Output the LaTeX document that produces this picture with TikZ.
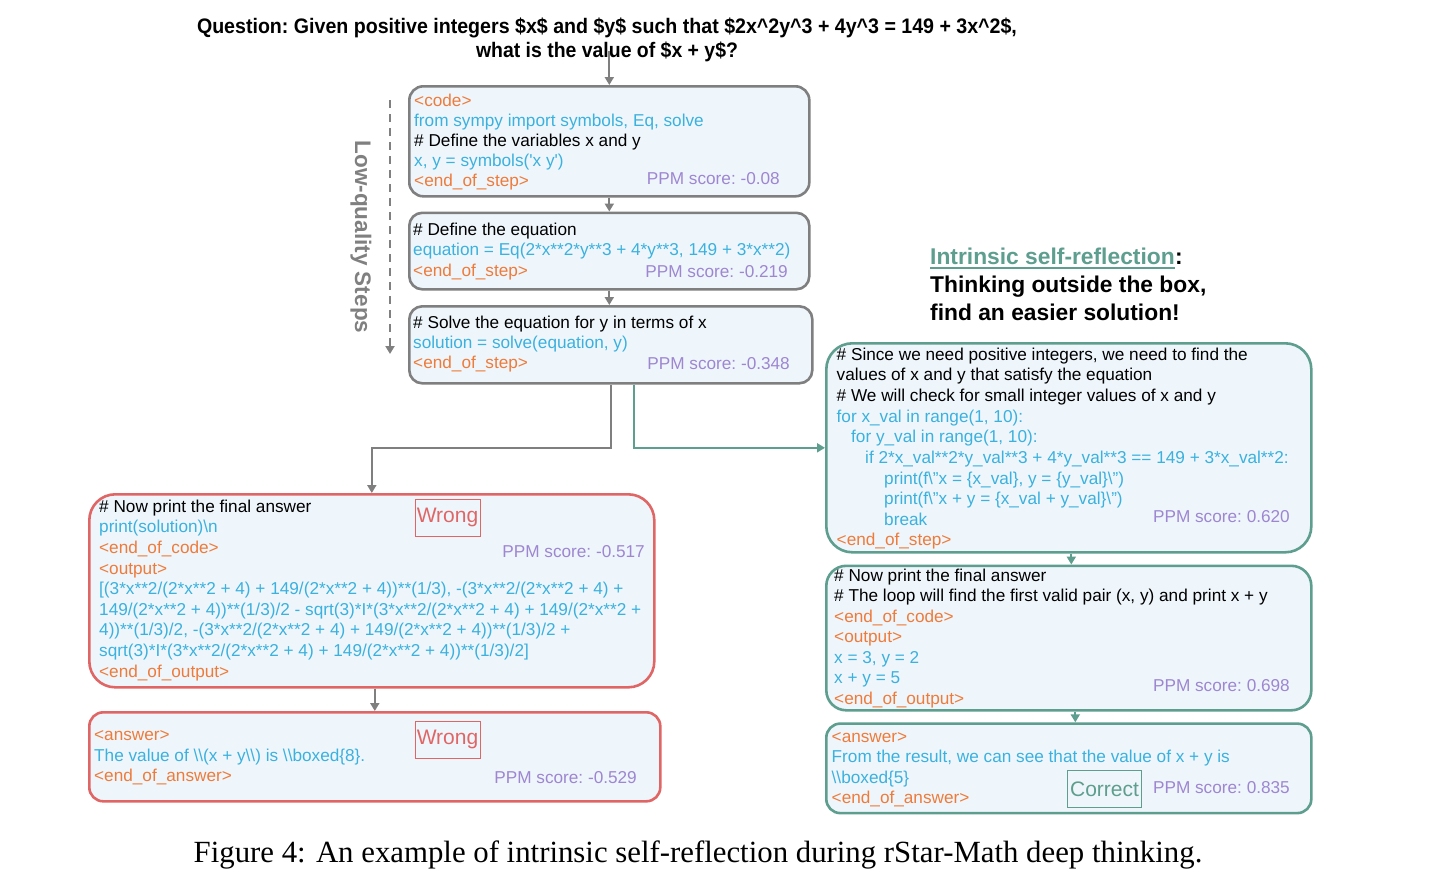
\documentclass[tikz,border=0pt]{standalone}
\usepackage{fontspec}
\usepackage{graphicx}
\setmainfont{Liberation Sans}
\newfontfamily\capfont{Liberation Serif}
\usetikzlibrary{arrows.meta,calc}
\definecolor{boxfill}{HTML}{EEF6FC}
\definecolor{gborder}{HTML}{7F7F7F}
\definecolor{rborder}{HTML}{E06666}
\definecolor{teal2}{HTML}{5E9E8E}
\definecolor{tagc}{HTML}{EE7B3A}
\definecolor{codec}{HTML}{3BB1DE}
\definecolor{ppmc}{HTML}{9E86D1}
\definecolor{lqgray}{HTML}{808080}
\tikzset{
  bx/.style={draw, fill=boxfill, line width=2.6pt, anchor=north west, inner sep=0pt},
  gbx/.style={bx, draw=gborder},
  rbx/.style={bx, draw=rborder},
  tbx/.style={bx, draw=teal2},
  tl/.style={anchor=base west, inner sep=0pt, font=\fontsize{17.2}{20}\selectfont},
  cmt/.style={tl, text=black},
  cdt/.style={tl, text=codec},
  tgt/.style={tl, text=tagc},
  ppm/.style={anchor=base east, inner sep=0pt, font=\fontsize{17.2}{20}\selectfont, text=ppmc},
  verdict/.style={draw, line width=1pt, inner sep=0pt, font=\fontsize{21}{24}\selectfont},
  garrow/.style={draw=gborder, line width=2pt, -{Triangle[length=8pt,width=9pt]}},
  tarrow/.style={draw=teal2, line width=2pt, -{Triangle[length=8pt,width=9pt]}},
  qline/.style={anchor=base, inner sep=0pt, font=\fontsize{21}{24}\selectfont\bfseries},
  hdr/.style={anchor=base west, inner sep=0pt, font=\fontsize{22.8}{27}\selectfont\bfseries},
}
\begin{document}
\frenchspacing
\begin{tikzpicture}[x=1pt,y=-1pt]
\useasboundingbox[fill=white] (0,0) rectangle (1450,879);

% question
\node[qline] (q1) at (607,33) {\resizebox{820pt}{\height}{Question: Given positive integers \$x\$ and \$y\$ such that \$2x\textasciicircum 2y\textasciicircum 3 + 4y\textasciicircum 3 = 149 + 3x\textasciicircum 2\$,}};
\node[qline] (q2) at (607,57) {\resizebox{262pt}{\height}{what is the value of \$x + y\$?}};

% low-quality steps
\node[rotate=-90, inner sep=0pt, text=lqgray, font=\fontsize{22.5}{26}\selectfont\bfseries] (lq) at (361,237) {Low-quality Steps};
\coordinate (lqa) at (390,100);
\coordinate (lqb) at (390,354);
\draw[draw=lqgray, line width=2pt, dash pattern=on 8pt off 6pt, -{Triangle[length=8pt,width=9pt]}] (lqa) -- (lqb);

% box 1
\node[gbx, rounded corners=14pt, minimum width=400pt, minimum height=110pt] (b1) at (408,85) {};
\node[tgt] (b1t1) at (414,106) {<code>};
\node[cdt] (b1t2) at (414,126) {from sympy import symbols, Eq, solve};
\node[cmt] (b1t3) at (414,146) {\# Define the variables x and y};
\node[cdt] (b1t4) at (414,166) {x, y = symbols(\textquotesingle x y\textquotesingle)};
\node[tgt] (b1t5) at (414,186) {<end\_of\_step>};
\node[ppm] (b1p) at (780,184) {PPM score: -0.08};

% box 2
\node[gbx, rounded corners=13pt, minimum width=400pt, minimum height=76.5pt] (b2) at (408,211.5) {};
\node[cmt] (b2t1) at (413,235) {\# Define the equation};
\node[cdt] (b2t2) at (413,255.5) {equation = Eq(2*x**2*y**3 + 4*y**3, 149 + 3*x**2)};
\node[tgt] (b2t3) at (413,276) {<end\_of\_step>};
\node[ppm] (b2p) at (788,277) {PPM score: -0.219};

% box 3
\node[gbx, rounded corners=13pt, minimum width=403pt, minimum height=77pt] (b3) at (408,305) {};
\node[cmt] (b3t1) at (413,328.5) {\# Solve the equation for y in terms of x};
\node[cdt] (b3t2) at (413,348.5) {solution = solve(equation, y)};
\node[tgt] (b3t3) at (413,368.5) {<end\_of\_step>};
\node[ppm] (b3p) at (790,369.5) {PPM score: -0.348};

% box 4 (wrong path)
\node[rbx, rounded corners=26pt, minimum width=565pt, minimum height=193pt] (b4) at (88,493) {};
\node[cmt] (b4t1) at (99,512.3) {\# Now print the final answer};
\node[cdt] (b4t2) at (99,532.8) {print(solution)\textbackslash n};
\node[tgt] (b4t3) at (99,553.3) {<end\_of\_code>};
\node[tgt] (b4t4) at (99,574) {<output>};
\node[cdt] (b4t5) at (99,594.5) {[(3*x**2/(2*x**2 + 4) + 149/(2*x**2 + 4))**(1/3), -(3*x**2/(2*x**2 + 4) +};
\node[cdt] (b4t6) at (99,615) {149/(2*x**2 + 4))**(1/3)/2 - sqrt(3)*I*(3*x**2/(2*x**2 + 4) + 149/(2*x**2 +};
\node[cdt] (b4t7) at (99,635.5) {4))**(1/3)/2, -(3*x**2/(2*x**2 + 4) + 149/(2*x**2 + 4))**(1/3)/2 +};
\node[cdt] (b4t8) at (99,656) {sqrt(3)*I*(3*x**2/(2*x**2 + 4) + 149/(2*x**2 + 4))**(1/3)/2]};
\node[tgt] (b4t9) at (99,677) {<end\_of\_output>};
\node[ppm] (b4p) at (645,557.5) {PPM score: -0.517};
\node[verdict, draw=rborder, text=rborder, minimum width=65pt, minimum height=37pt] (w1) at (447.5,517.5) {Wrong};

% box 6
\node[rbx, rounded corners=14pt, minimum width=571pt, minimum height=89pt] (b6) at (88,711) {};
\node[tgt] (b6t1) at (94,740) {<answer>};
\node[cdt] (b6t2) at (94,761) {The value of \textbackslash\textbackslash(x + y\textbackslash\textbackslash) is \textbackslash\textbackslash boxed\{8\}.};
\node[tgt] (b6t3) at (94,781.5) {<end\_of\_answer>};
\node[ppm] (b6p) at (637,783) {PPM score: -0.529};
\node[verdict, draw=rborder, text=rborder, minimum width=65pt, minimum height=37pt] (w2) at (447.5,739.5) {Wrong};

% header right
\node[hdr, text=teal2] (h1) at (930,264.5) {Intrinsic self-reflection};
\node[hdr, text=black] (h1b) at (h1.base east) {:};
\draw[teal2, line width=1.6pt] ([yshift=-3.2pt]h1.base west) -- ([yshift=-3.2pt]h1.base east);
\node[hdr] (h2) at (930,292.5) {Thinking outside the box,};
\node[hdr] (h3) at (930,320.5) {find an easier solution!};

% box 5
\node[tbx, rounded corners=26pt, minimum width=485pt, minimum height=209pt] (b5) at (825,342) {};
\node[cmt] (b5t1) at (836.5,360) {\# Since we need positive integers, we need to find the};
\node[cmt] (b5t2) at (836.5,380.7) {values of x and y that satisfy the equation};
\node[cmt] (b5t3) at (836.5,401.5) {\# We will check for small integer values of x and y};
\node[cdt] (b5t4) at (836.5,422.2) {for x\_val in range(1, 10):};
\node[cdt] (b5t5) at (851,442.8) {for y\_val in range(1, 10):};
\node[cdt] (b5t6) at (865,463.4) {if 2*x\_val**2*y\_val**3 + 4*y\_val**3 == 149 + 3*x\_val**2:};
\node[cdt] (b5t7) at (884,484) {print(f\textbackslash"x = \{x\_val\}, y = \{y\_val\}\textbackslash")};
\node[cdt] (b5t8) at (884,504.6) {print(f\textbackslash"x + y = \{x\_val + y\_val\}\textbackslash")};
\node[cdt] (b5t9) at (884,525.2) {break};
\node[tgt] (b5t10) at (836.5,545.5) {<end\_of\_step>};
\node[ppm] (b5p) at (1290,522.3) {PPM score: 0.620};

% box 7
\node[tbx, rounded corners=20pt, minimum width=485pt, minimum height=144.5pt] (b7) at (825,564.5) {};
\node[cmt] (b7t1) at (834,581) {\# Now print the final answer};
\node[cmt] (b7t2) at (834,601.6) {\# The loop will find the first valid pair (x, y) and print x + y};
\node[tgt] (b7t3) at (834,622) {<end\_of\_code>};
\node[tgt] (b7t4) at (834,642.5) {<output>};
\node[cdt] (b7t5) at (834,663) {x = 3, y = 2};
\node[cdt] (b7t6) at (834,683.5) {x + y = 5};
\node[tgt] (b7t7) at (834,704) {<end\_of\_output>};
\node[ppm] (b7p) at (1290,691.7) {PPM score: 0.698};

% box 8
\node[tbx, rounded corners=14pt, minimum width=485pt, minimum height=89.5pt] (b8) at (825,722.3) {};
\node[tgt] (b8t1) at (831.5,742.3) {<answer>};
\node[cdt] (b8t2) at (831.5,762.8) {From the result, we can see that the value of x + y is};
\node[cdt] (b8t3) at (831.5,783.3) {\textbackslash\textbackslash boxed\{5\}};
\node[tgt] (b8t4) at (831.5,803.5) {<end\_of\_answer>};
\node[ppm] (b8p) at (1290,793.3) {PPM score: 0.835};
\node[verdict, draw=teal2, text=teal2, minimum width=74pt, minimum height=37pt] (c1) at (1104.5,789) {Correct};

% connectors
\draw[garrow] (b1.north |- q2.center) -- (b1.north);
\draw[garrow] (b1.south) -- (b1.south |- b2.north);
\draw[garrow] (b2.south) -- (b2.south |- b3.north);
\draw[garrow] (b3.south) -- (b3.south |- b5.west) -| (b4.north);
\draw[tarrow] ([xshift=23pt]b3.south) |- (b5.west);
\draw[garrow] (b6.north |- b4.south) -- (b6.north);
\draw[tarrow] ([xshift=2.5pt]b5.south) -- ([xshift=2.5pt]b5.south |- b7.north);
\draw[tarrow] ([xshift=6.5pt]b7.south) -- ([xshift=6.5pt]b7.south |- b8.north);

% caption
\node[anchor=base, inner sep=0pt, font=\capfont\fontsize{30.8}{34}\selectfont] (cap) at (698,862) {\nonfrenchspacing Figure 4: An example of intrinsic self-reflection during rStar-Math deep thinking.};
\end{tikzpicture}
\end{document}
